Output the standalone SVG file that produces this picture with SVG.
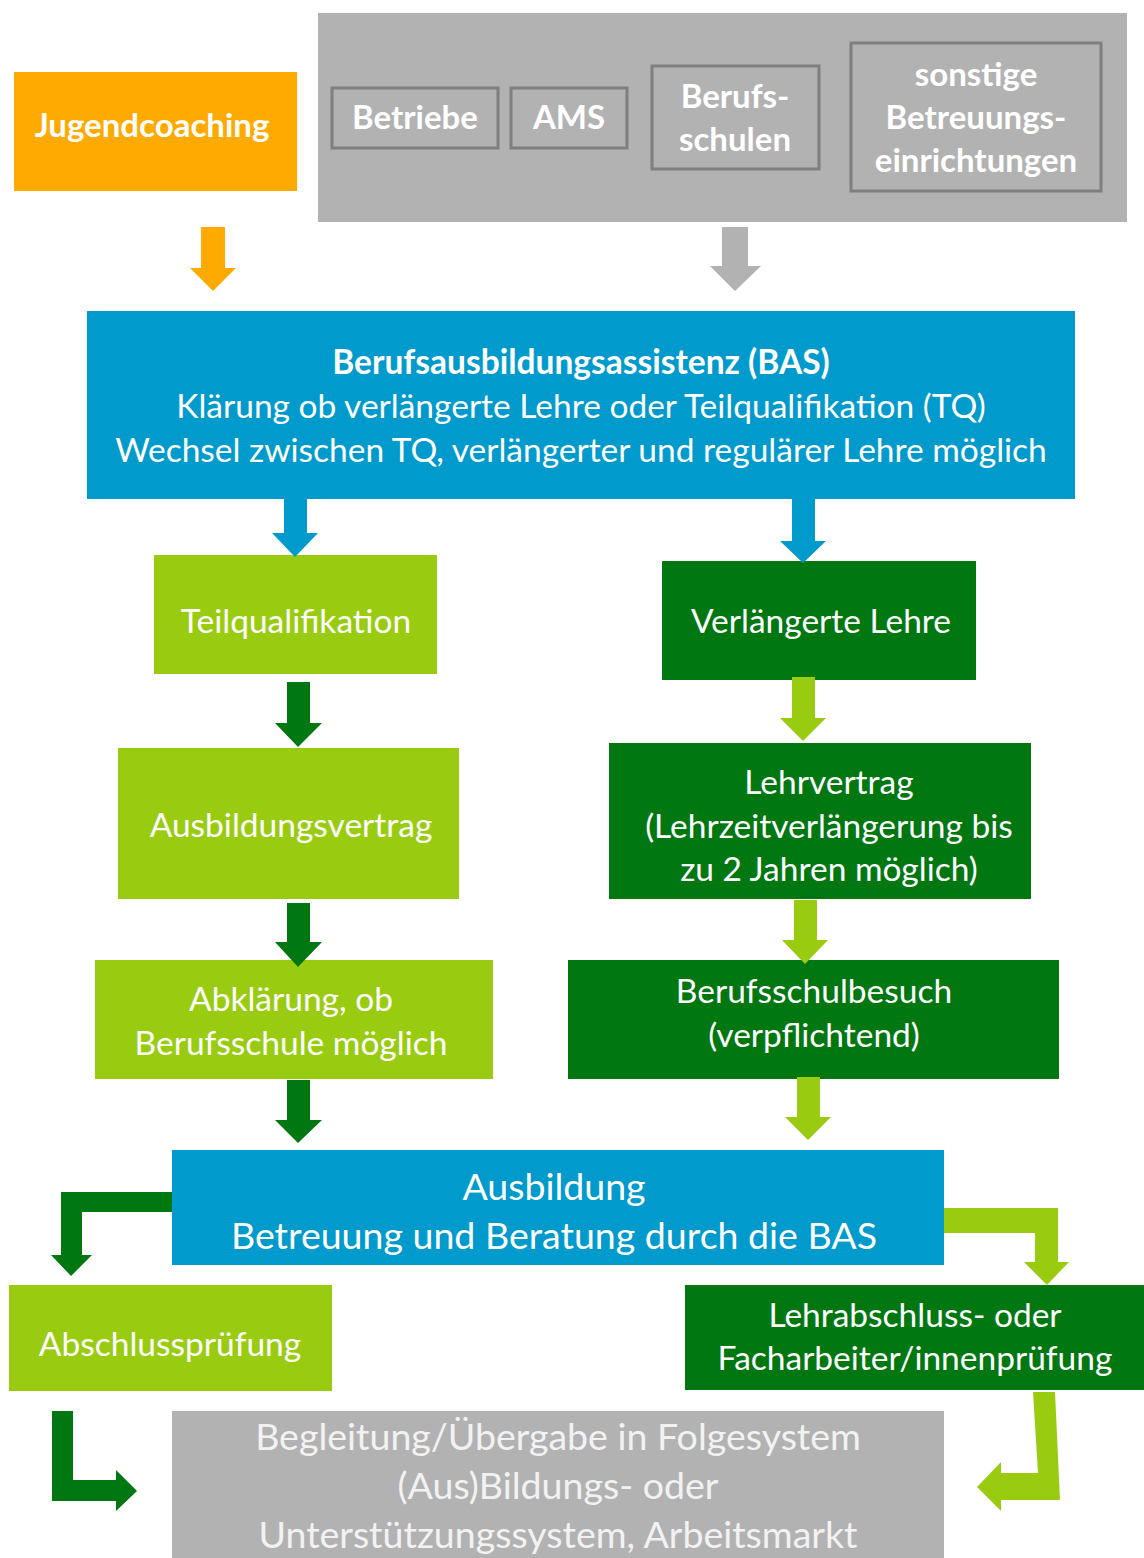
<svg xmlns="http://www.w3.org/2000/svg" width="1144" height="1558" viewBox="0 0 1144 1558">
<style>
text{font-family:Lato,"Open Sans","Liberation Sans",sans-serif;fill:#fff;text-anchor:middle}
.b{font-weight:bold}
.t{font-size:33.5px}
.s{font-size:33px}
.l{font-size:37.5px}
.inner{fill:none;stroke:#7f7f7f;stroke-width:3}
.org{fill:#ffaa00}.gry{fill:#b2b2b2}.blu{fill:#009bcc}.lg{fill:#99cc11}.dg{fill:#007711}
.lt{fill:#f2f2f2}
</style>
<rect width="1144" height="1558" fill="#fff"/>
<g id="jugendcoaching"><rect class="org" x="14" y="72" width="283" height="119"/><text class="b s" x="152" y="137">Jugendcoaching</text></g>
<g id="partner">
<rect class="gry" x="318" y="13" width="809" height="209"/>
<g id="betriebe"><rect class="inner" x="332" y="88" width="166" height="60"/><text class="b s" x="415" y="129">Betriebe</text></g>
<g id="ams"><rect class="inner" x="511" y="88" width="116" height="60"/><text class="b s" x="569" y="129">AMS</text></g>
<g id="berufsschulen"><rect class="inner" x="652" y="66" width="167" height="103"/><text class="b s" x="735" y="108">Berufs-</text><text class="b s" x="735" y="151">schulen</text></g>
<g id="sonstige"><rect class="inner" x="851" y="43" width="250" height="148"/><text class="b s" x="976" y="86">sonstige</text><text class="b s" x="976" y="129">Betreuungs-</text><text class="b s" x="976" y="172">einrichtungen</text></g>
</g>
<g id="bas"><rect class="blu" x="87" y="311" width="988" height="188"/>
<text class="b t" x="581" y="374">Berufsausbildungsassistenz (BAS)</text>
<text class="t" x="581" y="418">Klärung ob verlängerte Lehre oder Teilqualifikation (TQ)</text>
<text class="t" x="581" y="462">Wechsel zwischen TQ, verlängerter und regulärer Lehre möglich</text></g>
<g id="teilqualifikation"><rect class="lg" x="154" y="555" width="283" height="119"/><text class="t" x="296" y="633">Teilqualifikation</text></g>
<g id="verlaengerte"><rect class="dg" x="662" y="561" width="314" height="119"/><text class="t" x="821" y="633">Verlängerte Lehre</text></g>
<g id="ausbildungsvertrag"><rect class="lg" x="118" y="748" width="341" height="151"/><text class="t" x="291" y="837">Ausbildungsvertrag</text></g>
<g id="lehrvertrag"><rect class="dg" x="609" y="743" width="422" height="156"/><text class="t" x="829" y="794">Lehrvertrag</text><text class="t" x="829" y="838">(Lehrzeitverlängerung bis</text><text class="t" x="829" y="881">zu 2 Jahren möglich)</text></g>
<g id="abklaerung"><rect class="lg" x="95" y="960" width="398" height="119"/><text class="t" x="291" y="1011">Abklärung, ob</text><text class="t" x="291" y="1055">Berufsschule möglich</text></g>
<g id="berufsschulbesuch"><rect class="dg" x="568" y="960" width="491" height="119"/><text class="t" x="814" y="1003">Berufsschulbesuch</text><text class="t" x="814" y="1047">(verpflichtend)</text></g>
<g id="ausbildung"><rect class="blu" x="172" y="1150" width="772" height="115"/><text class="l" x="554" y="1200">Ausbildung</text><text class="l" x="554" y="1249">Betreuung und Beratung durch die BAS</text></g>
<g id="abschlusspruefung"><rect class="lg" x="9" y="1285" width="323" height="106"/><text class="t" x="170" y="1356">Abschlussprüfung</text></g>
<g id="lehrabschluss"><rect class="dg" x="685" y="1285" width="459" height="105"/><text class="t" x="915" y="1327">Lehrabschluss- oder</text><text class="t" x="915" y="1370">Facharbeiter/innenprüfung</text></g>
<g id="folgesystem"><rect class="gry" x="172" y="1411" width="772" height="147"/>
<text class="lt l" x="558" y="1450">Begleitung/Übergabe in Folgesystem</text>
<text class="lt l" x="558" y="1499">(Aus)Bildungs- oder</text>
<text class="lt l" x="558" y="1548">Unterstützungssystem, Arbeitsmarkt</text></g>
<g id="connectors">
<polygon class="org" points="201,227 225,227 225,268 236,268 213,291 190,268 201,268"/>
<polygon class="gry" points="722,227 748,227 748,266 761,266 735,291 710,266 722,266"/>
<polygon class="blu" points="284,499 307,499 307,533 318,533 295,557 272,533 284,533"/>
<polygon class="blu" points="792,499 815,499 815,541 826,541 803,563 780,541 792,541"/>
<polygon class="dg" points="287,682 310,682 310,723 322,723 298,747 275,723 287,723"/>
<polygon class="lg" points="792,677 815,677 815,718 826,718 803,741 780,718 792,718"/>
<polygon class="dg" points="287,903 310,903 310,942 322,942 298,967 275,942 287,942"/>
<polygon class="lg" points="794,900 817,900 817,940 828,940 805,964 782,940 794,940"/>
<polygon class="dg" points="287,1080 310,1080 310,1120 322,1120 298,1143 275,1120 287,1120"/>
<polygon class="lg" points="797,1077 820,1077 820,1117 831,1117 808,1140 785,1117 797,1117"/>
<polygon class="dg" points="172,1192 172,1212 82,1212 82,1255 92,1255 71,1276 51,1255 61,1255 61,1192"/>
<polygon class="lg" points="944,1208 1058,1208 1058,1262 1069,1262 1047,1285 1024,1262 1035,1262 1035,1233 944,1233"/>
<polygon class="dg" points="52,1411 73,1411 73,1480 116,1480 116,1470 137,1491 116,1511 116,1501 52,1501"/>
<polygon class="lg" points="1033,1392 1055,1392 1060,1500 1001,1500 1001,1511 977,1487 1001,1462 1001,1473 1038,1473"/>
</g>
</svg>
